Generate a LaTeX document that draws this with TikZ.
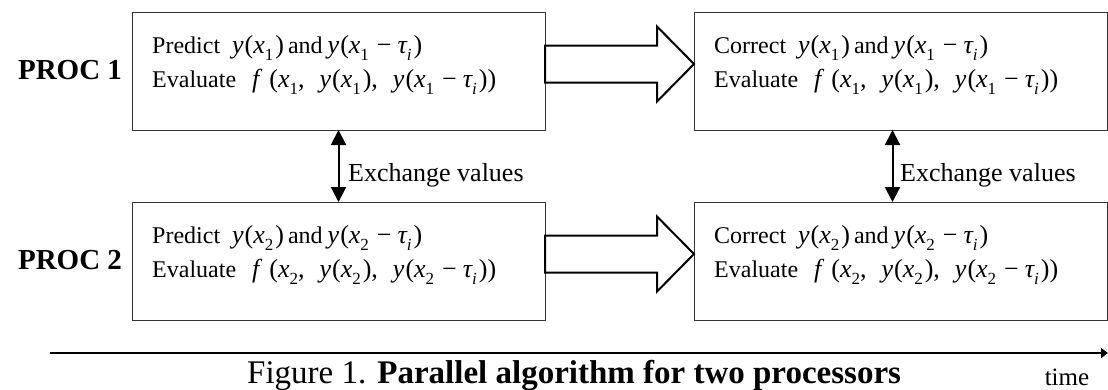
\documentclass[tikz,border=0pt]{standalone}
\usepackage{fontspec}
\setmainfont{Liberation Serif}
\usetikzlibrary{arrows.meta,calc}
\newcommand{\mv}[1]{{\fontsize{26}{30}\selectfont\itshape #1}}
\newcommand{\mr}[1]{{\fontsize{26}{30}\selectfont #1}}
\newcommand{\sbx}[1]{\raisebox{-0.3em}{\fontsize{17}{20}\selectfont #1}}
\newcommand{\sbi}{\raisebox{-0.3em}{\fontsize{17}{20}\selectfont\itshape i}}
\newcommand{\yx}[1]{\mv{y}\kern1pt\mr{(}\mv{x}\sbx{#1}\kern2pt\mr{)}}
\newcommand{\yxt}[1]{\mv{y}\kern1pt\mr{(}\mv{x}\sbx{#1}\hspace{8pt}\mr{−}\hspace{6pt}\mv{τ}\sbi\kern2pt\mr{)}}
\newcommand{\fx}[1]{\mv{f}\hspace{10pt}\mr{(}\mv{x}\sbx{#1}\mr{,}\hspace{15pt}\yx{#1}\mr{,}\hspace{15pt}\yxt{#1}\mr{)}}
\newcommand{\andw}{\hspace{4pt}and\hspace{5pt}}
\begin{document}
\begin{tikzpicture}[x=1pt,y=-1pt,
  box/.style={draw=black!80, line width=1pt, minimum width=413pt, minimum height=118pt, inner sep=0pt, outer sep=0pt, anchor=north west},
  txt/.style={anchor=base west, inner sep=0pt, font=\fontsize{24}{28}\selectfont},
  proc/.style={anchor=base, inner sep=0pt, font=\fontsize{29}{33}\selectfont\bfseries},
  xch/.style={anchor=base west, inner sep=0pt, font=\fontsize{26}{30}\selectfont},
  dbl/.style={line width=2pt, {Triangle[length=15pt,width=15pt]}-{Triangle[length=15pt,width=15pt]}},
  blk/.style={draw, line width=2pt, fill=white, line join=miter},
]
\useasboundingbox (0,0) rectangle (1108,389);
\node[box] (b1) at (132,12) {};
\node[box] (b2) at (694,12) {};
\node[box] (b3) at (132,202) {};
\node[box] (b4) at (694,202) {};
% texts
\node[txt] (t1a) at ($(b1.north west)+(20,41.5)$) {Predict\hspace{12pt}\yx{1}\andw\yxt{1}};
\node[txt] (t1b) at ($(b1.north west)+(20,75)$) {Evaluate\hspace{16pt}\fx{1}};
\node[txt] (t2a) at ($(b2.north west)+(20,41.5)$) {Correct\hspace{12pt}\yx{1}\andw\yxt{1}};
\node[txt] (t2b) at ($(b2.north west)+(20,75)$) {Evaluate\hspace{16pt}\fx{1}};
\node[txt] (t3a) at ($(b3.north west)+(20,41.5)$) {Predict\hspace{12pt}\yx{2}\andw\yxt{2}};
\node[txt] (t3b) at ($(b3.north west)+(20,75)$) {Evaluate\hspace{16pt}\fx{2}};
\node[txt] (t4a) at ($(b4.north west)+(20,41.5)$) {Correct\hspace{12pt}\yx{2}\andw\yxt{2}};
\node[txt] (t4b) at ($(b4.north west)+(20,75)$) {Evaluate\hspace{16pt}\fx{2}};
% proc labels
\node[proc] (pr1) at (70,79) {PROC 1};
\node[proc] (pr2) at (70,269) {PROC 2};
% exchange arrows
\draw[dbl] (b1.south) -- (b3.north);
\draw[dbl] ($(b2.south)+(-8,0)$) -- ($(b4.north)+(-8,0)$);
\node[xch] (ex1) at (348,181) {Exchange values};
\node[xch] (ex2) at (900,181) {Exchange values};
% block arrows
\draw[blk] ($(b1.east)+(0,-25.5)$) -- ($(b2.west)+(-37,-25.5)$) -- ($(b2.west)+(-37,-44.5)$) -- ($(b2.west)+(0,-7)$) -- ($(b2.west)+(-37,30.5)$) -- ($(b2.west)+(-37,11.5)$) -- ($(b1.east)+(0,11.5)$) -- cycle;
\draw[blk] ($(b3.east)+(0,-25.5)$) -- ($(b4.west)+(-37,-25.5)$) -- ($(b4.west)+(-37,-44.5)$) -- ($(b4.west)+(0,-7)$) -- ($(b4.west)+(-37,30.5)$) -- ($(b4.west)+(-37,11.5)$) -- ($(b3.east)+(0,11.5)$) -- cycle;
% time axis
\coordinate (ax0) at (50,353);
\coordinate (ax1) at (1108,353);
\draw[line width=2.7pt, -{Triangle[length=7pt,width=10pt]}] (ax0) -- (ax1);
\node[anchor=base, inner sep=0pt, font=\fontsize{25}{28}\selectfont] (tm) at (1067,385) {time};
\node[anchor=base west, inner sep=0pt, font=\fontsize{33}{37}\selectfont] (cap) at (247,383) {Figure 1. \textbf{Parallel algorithm for two processors}};
\end{tikzpicture}
\end{document}
